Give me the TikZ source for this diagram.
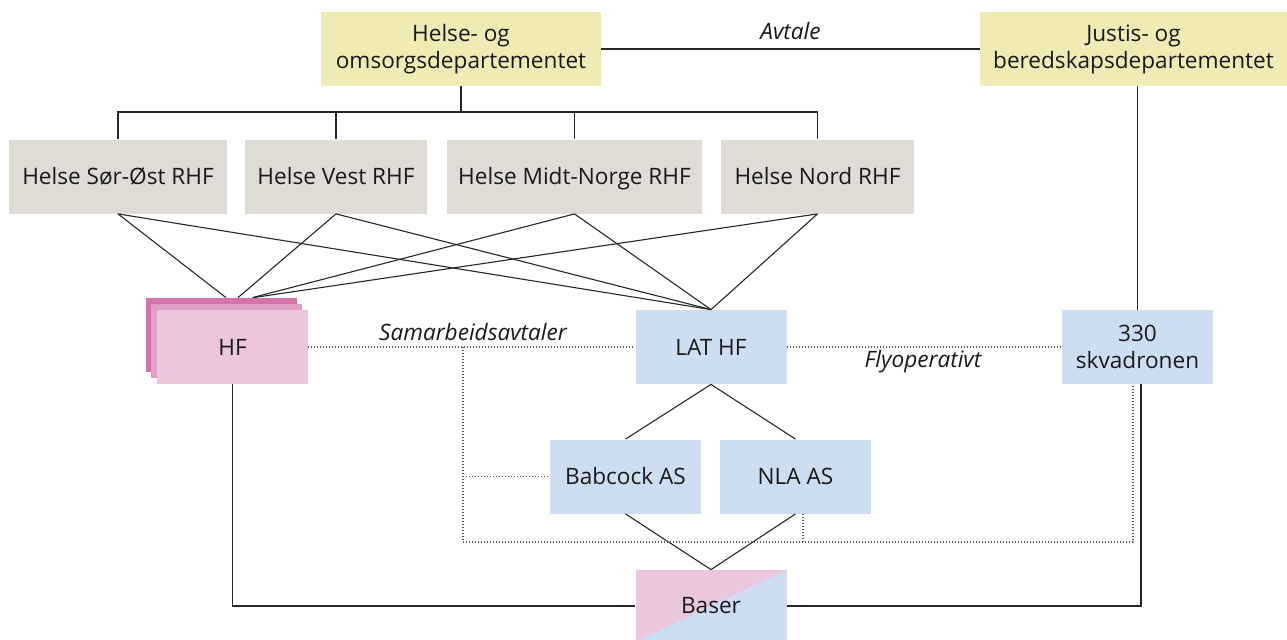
\documentclass[tikz,border=0pt]{standalone}
\usepackage{fontspec}
\setmainfont{Open Sans}
\definecolor{depyellow}{HTML}{F0EBB5}
\definecolor{rhfgray}{HTML}{DFDBD5}
\definecolor{unitblue}{HTML}{CEDEF2}
\definecolor{hfpink}{HTML}{EBC6DF}
\definecolor{hfmid}{HTML}{E09FC8}
\definecolor{hfdark}{HTML}{D574AA}
\definecolor{linegray}{HTML}{262626}
\definecolor{dotgray}{HTML}{555555}
\begin{document}
\begin{tikzpicture}[x=0.5pt, y=-0.5pt,
		font=\fontsize{11.3}{13.5}\selectfont, text=black!90,
		box/.style={inner sep=0pt, align=center, minimum height=37pt},
		dep/.style={box, fill=depyellow},
		rhf/.style={box, fill=rhfgray, text height=8.1pt, text depth=0pt},
		unit/.style={box, fill=unitblue, minimum width=75.5pt},
		link/.style={line width=0.55pt, draw=linegray},
		dots/.style={line width=0.6pt, draw=dotgray, dash pattern=on 0.5pt off 1pt},
		lbl/.style={font=\fontsize{11.3}{13.5}\selectfont\itshape}]
		\useasboundingbox (0,0) rectangle (1287,639);
		% Departementene
		\node[dep, minimum width=140pt] (hod) at (461,49) {Helse- og\\omsorgsdepartementet};
		\node[dep, minimum width=153.5pt] (jbd) at (1133.5,49) {Justis- og\\beredskapsdepartementet};
		% Regionale helseforetak
		\node[rhf, minimum width=109pt] (sorost) at (118,176.5) {Helse Sør-Øst RHF};
		\node[rhf, minimum width=91pt] (vest) at (336,176.5) {Helse Vest RHF};
		\node[rhf, minimum width=127.5pt] (midt) at (574.5,176.5) {Helse Midt-Norge RHF};
		\node[rhf, minimum width=96.5pt] (nord) at (817.5,176.5) {Helse Nord RHF};
		% HF (stabel)
		\node[box, fill=hfdark, minimum width=75.5pt] (hfback) at (221.5,335) {};
		\node[box, fill=hfmid, minimum width=75.5pt] (hfmidbox) at (226.5,341) {};
		\node[box, fill=hfpink, minimum width=75.5pt] (hf) at (232.5,347) {HF};
		% Enheter
		\node[unit] (lat) at (711,347) {LAT HF};
		\node[unit] (skv) at (1137.5,347) {330\\skvadronen};
		\node[unit] (bab) at (625.5,476.5) {Babcock AS};
		\node[unit] (nla) at (795.5,476.5) {NLA AS};
		\node[unit, minimum height=36pt, fill=hfpink,
			path picture={\fill[unitblue] (path picture bounding box.south west)
				-- (path picture bounding box.north east)
				-- (path picture bounding box.south east) -- cycle;}] (baser) at (711,606) {Baser};
		% Avtale
		\draw[link] (hod) -- (jbd) node[lbl, midway, above=1pt] (lblavt) {Avtale};
		% Eierlinjer
		\coordinate (bar) at (461,112);
		\draw[link] (hod.south) -- (bar);
		\draw[link] (sorost.north) -- (sorost.north |- bar) -- (nord.north |- bar) -- (nord.north);
		\draw[link] (vest.north) -- (vest.north |- bar);
		\draw[link] (midt.north) -- (midt.north |- bar);
		\draw[link] (skv.north |- jbd.south) -- (skv.north);
		% RHF til HF og LAT HF
		\draw[link] (sorost.south) -- ([xshift=2.25pt]hfback.north);
		\draw[link] (vest.south) -- ([xshift=8.25pt]hfback.north);
		\draw[link] (midt.south) -- ([xshift=15.5pt]hfback.north);
		\draw[link] (nord.south) -- ([xshift=16pt]hfback.north);
		\foreach \r in {sorost, vest, midt, nord}
			\draw[link] (\r.south) -- (lat.north);
		% LAT HF og operatorer
		\draw[link] (lat.south) -- (bab.north);
		\draw[link] (lat.south) -- (nla.north);
		\draw[link] (bab.south) -- (baser.north);
		\draw[link] (nla.south) -- (baser.north);
		\draw[link] (hf.south) -- (hf.south |- baser.west) -- (baser.west);
		\draw[link] ([xshift=1.75pt]skv.south) -- ([xshift=1.75pt]skv.south |- baser.east) -- (baser.east);
		% Samarbeid (prikket)
		\draw[dots] (hf.east) -- (lat.west);
		\draw[dots] (lat.east) -- (skv.west);
		\node[lbl] (lblsam) at (473,332) {Samarbeidsavtaler};
		\node[lbl] (lblfly) at (923,362) {Flyoperativt};
		\coordinate (sjoin) at (463,347);
		\coordinate (sbot) at (463,542);
		\draw[dots] (sjoin) -- (sbot) -- ([xshift=-2.25pt]skv.south |- sbot) -- ([xshift=-2.25pt]skv.south);
		\draw[dots] (sbot |- bab.west) -- (bab.west);
		\draw[dots] ([xshift=3.75pt]nla.south) -- ([xshift=3.75pt]nla.south |- sbot);
	\end{tikzpicture}
\end{document}
